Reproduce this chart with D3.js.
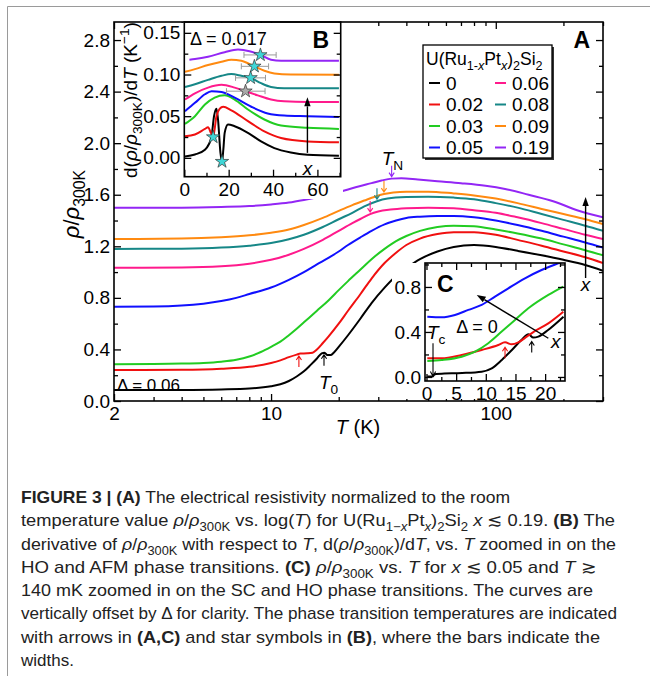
<!DOCTYPE html>
<html>
<head>
<meta charset="utf-8">
<script src="https://cdn.jsdelivr.net/npm/d3@7"></script>
<style>
  body { margin: 0; background: #fff; }
  svg { font-family: "Liberation Sans", Arial, sans-serif; }
</style>
</head>
<body>
<svg id="container" width="650" height="676"></svg>
<script>
// ---------------- data ----------------
const xLabels = ["0", "0.02", "0.03", "0.05", "0.06", "0.08", "0.09", "0.19"];
const colors  = ["#000000", "#f01010", "#22cc22", "#1010ff", "#ff1a8c", "#168787", "#ff8a10", "#9326f5"];

// (A) rho/rho300K, offset by 0.06, vs T (K)
const rhoA_0 = [[2,0.085],[4,0.086],[6,0.09],[8,0.097],[10,0.115],[11,0.13],[12,0.155],[13,0.19],[14,0.23],[15,0.28],[16,0.33],[16.8,0.37],[17.3,0.375],[17.8,0.356],[18.4,0.356],[19,0.375],[20,0.42],[22,0.51],[25,0.64],[28,0.76],[32,0.88],[36,0.97],[40,1.03],[46,1.1],[55,1.16],[65,1.195],[80,1.21],[100,1.195],[125,1.165],[160,1.13],[200,1.095],[250,1.055],[300,1.01]];
const rhoA_002 = [[2,0.24],[4,0.242],[6,0.25],[8,0.265],[10,0.295],[11,0.315],[12,0.34],[13,0.36],[13.5,0.368],[14.5,0.37],[15.3,0.375],[16,0.4],[17,0.45],[18,0.5],[20,0.6],[22,0.7],[25,0.83],[28,0.95],[32,1.07],[36,1.15],[40,1.21],[46,1.26],[55,1.295],[65,1.31],[80,1.31],[100,1.29],[125,1.25],[160,1.205],[200,1.16],[250,1.115],[300,1.07]];
const rhoA_003 = [[2,0.285],[4,0.29],[5,0.295],[6,0.305],[7,0.32],[8,0.345],[9,0.38],[10,0.42],[11,0.46],[12,0.51],[13,0.56],[14,0.61],[16,0.7],[18,0.78],[20,0.86],[22,0.93],[25,1.02],[28,1.1],[32,1.18],[36,1.24],[40,1.28],[46,1.32],[55,1.35],[65,1.36],[80,1.355],[100,1.33],[125,1.3],[160,1.26],[200,1.215],[250,1.17],[300,1.13]];
const rhoA_005 = [[2,0.732],[3,0.733],[4,0.74],[5,0.755],[6,0.775],[7,0.8],[8,0.83],[10,0.88],[12,0.94],[14,1.0],[16,1.06],[18,1.11],[20,1.16],[22,1.21],[25,1.27],[28,1.32],[32,1.37],[36,1.4],[40,1.42],[46,1.43],[55,1.435],[65,1.435],[80,1.425],[100,1.4],[125,1.365],[160,1.32],[200,1.275],[250,1.23],[300,1.19]];
const rhoA_006 = [[2,1.034],[4,1.036],[6,1.045],[8,1.065],[10,1.095],[12,1.135],[14,1.18],[17,1.25],[20,1.32],[23,1.38],[25.5,1.42],[27.6,1.45],[30,1.47],[34,1.485],[40,1.495],[50,1.5],[65,1.495],[80,1.48],[100,1.46],[125,1.425],[160,1.38],[200,1.335],[250,1.29],[300,1.257]];
const rhoA_008 = [[2,1.18],[4,1.182],[6,1.19],[8,1.205],[10,1.225],[12,1.255],[14,1.29],[17,1.35],[20,1.41],[23,1.46],[26,1.51],[29.6,1.55],[33,1.57],[40,1.582],[50,1.585],[65,1.578],[80,1.565],[100,1.535],[125,1.5],[160,1.45],[200,1.405],[250,1.36],[300,1.32]];
const rhoA_009 = [[2,1.257],[4,1.26],[6,1.27],[8,1.285],[10,1.305],[12,1.33],[14,1.365],[17,1.42],[20,1.475],[23,1.52],[26,1.555],[29,1.585],[31.8,1.605],[35,1.618],[40,1.624],[50,1.624],[65,1.61],[80,1.595],[100,1.57],[125,1.535],[160,1.49],[200,1.45],[250,1.41],[300,1.373]];
const rhoA_019 = [[2,1.5],[4,1.5],[6,1.505],[8,1.512],[10,1.525],[12,1.54],[14,1.56],[17,1.59],[20,1.62],[24,1.66],[28,1.69],[31,1.71],[34.4,1.725],[38,1.728],[45,1.718],[55,1.705],[70,1.69],[90,1.67],[110,1.645],[140,1.6],[180,1.55],[230,1.48],[300,1.425]];
const panelA = [rhoA_0, rhoA_002, rhoA_003, rhoA_005, rhoA_006, rhoA_008, rhoA_009, rhoA_019];
// transition arrows in (A): [series index, T, direction]
const arrowsA = [[0,17.2,"up"],[1,13.3,"up"],[4,27.6,"down"],[5,29.6,"down"],[6,31.8,"down"],[7,34.4,"down"]];

// (B) d(rho/rho300K)/dT, offset by 0.017, vs T (K)
const drhoB_0 = [[0.3,0.0016],[4.8,0.004],[9.3,0.0097],[11,0.016],[12.3,0.0258],[13.4,0.05],[14.5,0.059],[15.2,0.046],[16.3,0.006],[17,-0.0045],[17.6,0.01],[18.2,0.03],[19.7,0.04],[22.7,0.038],[28.7,0.03],[34.6,0.0197],[40.6,0.0117],[48,0.0064],[55.5,0.0036],[69.7,0.0024]];
const drhoB_002 = [[0.3,0.0258],[4.8,0.028],[9.3,0.0347],[10.7,0.0367],[12,0.03],[13,0.025],[14.5,0.05],[16,0.059],[17.5,0.0613],[21.2,0.057],[28.7,0.044],[36.1,0.0318],[43.6,0.0238],[55.5,0.0197],[69.7,0.0186]];
const drhoB_003 = [[0.3,0.0408],[4.8,0.05],[9.3,0.064],[13.7,0.0722],[18.2,0.075],[22.7,0.07],[28.7,0.058],[36.1,0.046],[43.6,0.0387],[55.5,0.036],[69.7,0.0347]];
const drhoB_005 = [[0.3,0.056],[4.8,0.066],[9.3,0.0763],[12.3,0.08],[16.8,0.079],[22.7,0.0722],[30.2,0.0613],[37.6,0.0533],[45,0.0508],[55.5,0.05],[69.7,0.049]];
const drhoB_006 = [[0.3,0.07],[4.8,0.0775],[10.7,0.0843],[16.8,0.0876],[22.7,0.0843],[27.6,0.08],[33.1,0.075],[39.1,0.07],[45,0.0678],[55.5,0.067],[69.7,0.067]];
const drhoB_008 = [[0.3,0.0851],[4.8,0.0884],[10.7,0.0936],[16.8,0.0985],[21.2,0.1005],[25.7,0.0985],[29.9,0.096],[34.6,0.0896],[39.1,0.0851],[45,0.0835],[69.7,0.0835]];
const drhoB_009 = [[0.3,0.1033],[4.8,0.1065],[10.7,0.1114],[16.8,0.1154],[21.2,0.1178],[25.7,0.1166],[31.6,0.1098],[36.1,0.1045],[40.6,0.1013],[48,0.1],[69.7,0.0996]];
const drhoB_019 = [[2.3,0.1178],[4.8,0.1186],[10.7,0.1214],[18.2,0.1268],[24.2,0.13],[29.4,0.128],[34.3,0.1235],[39.1,0.1178],[43.6,0.1166],[69.7,0.1166]];
const panelB = [drhoB_0, drhoB_002, drhoB_003, drhoB_005, drhoB_006, drhoB_008, drhoB_009, drhoB_019];
// stars in (B): [series index, T, value, width low, width high]
const starsB = [[0,17.0,-0.0045,null,null],[1,13.0,0.025,null,null],[4,27.6,0.08,19,36.4],[5,29.9,0.096,23.1,36.6],[6,31.6,0.1098,25.7,38],[7,34.3,0.1235,26.9,41.4]];

// (C) rho/rho300K, no offset, vs T (K), x <= 0.05
const rhoC_0 = [[0.14,0.003],[1.0,0.003],[1.3,0.02],[1.6,0.027],[3,0.03],[6,0.035],[9.3,0.047],[11,0.077],[12.7,0.151],[14.4,0.24],[16,0.329],[17.2,0.379],[18,0.35],[18.85,0.358],[20.5,0.418],[23.1,0.536]];
const rhoC_002 = [[0.14,0.166],[2.56,0.166],[5.94,0.196],[9.3,0.24],[12.1,0.284],[13.24,0.308],[14.37,0.29],[15.48,0.308],[16.9,0.358],[18.3,0.409],[20.54,0.477],[23.07,0.58]];
const rhoC_003 = [[0.14,0.142],[2.56,0.151],[5.94,0.18],[8.18,0.225],[10.42,0.3],[12.68,0.403],[14.92,0.507],[17.17,0.61],[20.54,0.729],[23.07,0.803]];
const rhoC_005 = [[0.14,0.536],[2.56,0.53],[4.8,0.551],[7.05,0.596],[9.3,0.64],[11.55,0.714],[13.8,0.788],[16.6,0.877],[19.4,0.951],[21.7,1.0],[23.35,1.03]];
const panelC = [rhoC_0, rhoC_002, rhoC_003, rhoC_005];
const arrowsC = [[0,17.74,"up"],[1,13.24,"up"]];
const tcC = 1.1;

// caption lines: [text, style] segments; b bold, i italic, _ subscript, ^ superscript
const caption = [
  [["FIGURE 3 | (A)","b"],[" The electrical resistivity normalized to the room",""]],
  [["temperature value ",""],["ρ","i"],["/",""],["ρ","i"],["300K","_"],[" vs. log(",""],["T","i"],[") for U(Ru",""],["1−","_"],["x","_i"],["Pt",""],["x","_i"],[")",""],["2","_"],["Si",""],["2","_"],[" ",""],["x","i"],[" ≲ 0.19. ",""],["(B)","b"],[" The",""]],
  [["derivative of ",""],["ρ","i"],["/",""],["ρ","i"],["300K","_"],[" with respect to ",""],["T","i"],[", d(",""],["ρ","i"],["/",""],["ρ","i"],["300K","_"],[")/d",""],["T","i"],[", vs. ",""],["T","i"],[" zoomed in on the",""]],
  [["HO and AFM phase transitions. ",""],["(C)","b"],[" ",""],["ρ","i"],["/",""],["ρ","i"],["300K","_"],[" vs. ",""],["T","i"],[" for ",""],["x","i"],[" ≲ 0.05 and ",""],["T","i"],[" ≳",""]],
  [["140 mK zoomed in on the SC and HO phase transitions. The curves are",""]],
  [["vertically offset by Δ for clarity. The phase transition temperatures are indicated",""]],
  [["with arrows in ",""],["(A,C)","b"],[" and star symbols in ",""],["(B)","b"],[", where the bars indicate the",""]],
  [["widths.",""]]
];
const captionEnds = [510, 615, 616, 596, 593, 617, 600, null];

// ---------------- helpers ----------------
const svg = d3.select("#container");
const FONT = 19;

function rich(sel, segs, size) {
  let cur = 0;
  segs.forEach(([t, st]) => {
    const sub = st.includes("_"), sup = st.includes("^");
    const s = sub ? size * 0.28 : sup ? -size * 0.4 : 0;
    const ts = sel.append("tspan").text(t)
      .attr("dy", s - cur)
      .attr("font-size", (sub || sup) ? size * 0.72 : size);
    if (st.includes("b")) ts.attr("font-weight", "bold");
    if (st.includes("i")) ts.attr("font-style", "italic");
    cur = s;
  });
  return sel;
}

function valueAt(series, T, logx) {
  const f = logx ? Math.log : (v => v);
  for (let i = 1; i < series.length; i++) {
    if (series[i][0] >= T) {
      const [t0, v0] = series[i - 1], [t1, v1] = series[i];
      const k = (f(T) - f(t0)) / (f(t1) - f(t0));
      return v0 + k * (v1 - v0);
    }
  }
  return series[series.length - 1][1];
}

function ticks(g, x, y, o) {
  const [x0, x1] = x.range(), [y0, y1] = y.range();
  const fmtNone = () => "";
  const style = s => s.call(a => a.select(".domain").remove())
    .call(a => a.selectAll(".tick line").attr("stroke", "#000").attr("stroke-width", 1.3))
    .call(a => a.selectAll("text").attr("font-size", FONT).attr("font-family", "Liberation Sans, Arial, sans-serif").attr("fill", "#000"));
  g.append("g").attr("transform", `translate(0,${y0})`)
    .call(d3.axisBottom(x).tickValues(o.xMajor).tickSize(-7).tickPadding(6).tickFormat(o.xFmt)).call(style);
  g.append("g").attr("transform", `translate(0,${y0})`)
    .call(d3.axisBottom(x).tickValues(o.xMinor).tickSize(-4).tickFormat(fmtNone)).call(style);
  if (o.top) {
    g.append("g").attr("transform", `translate(0,${y1})`)
      .call(d3.axisTop(x).tickValues(o.xMajor).tickSize(-7).tickFormat(fmtNone)).call(style);
    g.append("g").attr("transform", `translate(0,${y1})`)
      .call(d3.axisTop(x).tickValues(o.xMinor).tickSize(-4).tickFormat(fmtNone)).call(style);
  }
  g.append("g").attr("transform", `translate(${x0},0)`)
    .call(d3.axisLeft(y).tickValues(o.yMajor).tickSize(-7).tickPadding(4).tickFormat(o.yFmt)).call(style);
  g.append("g").attr("transform", `translate(${x0},0)`)
    .call(d3.axisLeft(y).tickValues(o.yMinor).tickSize(-4).tickFormat(fmtNone)).call(style);
  g.append("g").attr("transform", `translate(${x1},0)`)
    .call(d3.axisRight(y).tickValues(o.yMajor).tickSize(-7).tickFormat(fmtNone)).call(style);
  g.append("g").attr("transform", `translate(${x1},0)`)
    .call(d3.axisRight(y).tickValues(o.yMinor).tickSize(-4).tickFormat(fmtNone)).call(style);
  g.append("rect").attr("x", x0).attr("y", y1).attr("width", x1 - x0).attr("height", y0 - y1)
    .attr("fill", "none").attr("stroke", "#000").attr("stroke-width", 1.6);
}

function smallArrow(g, x, yTip, dir, color) {
  const d = dir === "up" ? 1 : -1;
  g.append("path")
    .attr("d", `M${x},${yTip + d * 11}L${x},${yTip}M${x - 2.6},${yTip + d * 4}L${x},${yTip}L${x + 2.6},${yTip + d * 4}`)
    .attr("fill", "none").attr("stroke", color).attr("stroke-width", 1.1);
}

function bigArrow(g, xa, ya, xb, yb) {
  const ang = Math.atan2(yb - ya, xb - xa), L = 9, w = 3.2;
  const bx = xb - L * Math.cos(ang), by = yb - L * Math.sin(ang);
  g.append("line").attr("x1", xa).attr("y1", ya).attr("x2", bx).attr("y2", by)
    .attr("stroke", "#000").attr("stroke-width", 1.4);
  g.append("path")
    .attr("d", `M${xb},${yb}L${bx - w * Math.sin(ang)},${by + w * Math.cos(ang)}L${bx + w * Math.sin(ang)},${by - w * Math.cos(ang)}Z`)
    .attr("fill", "#000");
}

// page border
svg.append("path").attr("d", "M7.5,676V6.5H650").attr("fill", "none").attr("stroke", "#9a9a9a").attr("stroke-width", 1);

// ---------------- panel A ----------------
const xA = d3.scaleLog().domain([2, 300]).range([114, 603]);
const yA = d3.scaleLinear().domain([0, 2.94]).range([401, 22]);
const gA = svg.append("g");

svg.append("clipPath").attr("id", "clipA").append("rect")
  .attr("x", 114).attr("y", 22).attr("width", 489).attr("height", 379);

const lineA = d3.line().x(d => xA(d[0])).y(d => yA(d[1])).curve(d3.curveMonotoneX);
gA.append("g").attr("clip-path", "url(#clipA)")
  .selectAll("path").data(panelA).join("path")
  .attr("d", lineA).attr("fill", "none")
  .attr("stroke", (d, i) => colors[i]).attr("stroke-width", 2);

ticks(gA, xA, yA, {
  xMajor: [2, 10, 100], xMinor: [3,4,5,6,7,8,9,20,30,40,50,60,70,80,90,200,300],
  xFmt: d3.format("d"), top: true,
  yMajor: d3.range(0, 2.81, 0.4), yMinor: d3.range(0.2, 2.9, 0.4), yFmt: d3.format(".1f")
});

arrowsA.forEach(([s, T, dir]) => {
  const yc = yA(valueAt(panelA[s], T, true));
  smallArrow(gA, xA(T), dir === "up" ? yc + 2 : yc - 2, dir, colors[s]);
});

gA.append("text").attr("transform", "translate(79,204) rotate(-90)")
  .attr("text-anchor", "middle")
  .call(s => rich(s, [["ρ","i"],["/",""],["ρ","i"],["300K","_"]], 22));
gA.append("text").attr("x", 358).attr("y", 434).attr("text-anchor", "middle")
  .call(s => rich(s, [["T","i"],[" (K)",""]], 20));
gA.append("text").attr("x", xA(2) + 3).attr("y", yA(0.1) + 3).attr("font-size", 17).text("Δ = 0.06");
gA.append("text").attr("x", xA(34.4) - 10).attr("y", yA(1.725) - 14)
  .call(s => rich(s, [["T","i"],["N","_"]], 19));
gA.append("text").attr("x", xA(17.2) - 5).attr("y", yA(0.375) + 36)
  .call(s => rich(s, [["T","i"],["0","_"]], 19));
bigArrow(gA, xA(251), yA(0.954), xA(251), yA(1.583));
gA.append("text").attr("x", xA(251)).attr("y", yA(0.954) + 13).attr("text-anchor", "middle")
  .attr("font-size", 19).attr("font-style", "italic").text("x");
gA.append("text").attr("x", 590).attr("y", 48).attr("text-anchor", "end")
  .attr("font-size", 23).attr("font-weight", "bold").text("A");

// legend
const lg = gA.append("g");
lg.append("rect").attr("x", 425).attr("y", 47).attr("width", 129).attr("height", 113).attr("fill", "#333");
lg.append("rect").attr("x", 423).attr("y", 45).attr("width", 129).attr("height", 113)
  .attr("fill", "#fff").attr("stroke", "#000").attr("stroke-width", 1.3);
lg.append("text").attr("x", 426).attr("y", 65)
  .call(s => rich(s, [["U(Ru",""],["1-","_"],["x","_i"],["Pt",""],["x","_i"],[")",""],["2","_"],["Si",""],["2","_"]], 17.5));
xLabels.forEach((lab, i) => {
  const col = i < 4 ? 0 : 1, row = i % 4;
  const x0 = col ? 495 : 429, yc = 83 + row * 21.5;
  lg.append("line").attr("x1", x0).attr("x2", x0 + 11).attr("y1", yc).attr("y2", yc)
    .attr("stroke", colors[i]).attr("stroke-width", 2);
  lg.append("text").attr("x", x0 + 17).attr("y", yc + 6.5).attr("font-size", 19).text(lab);
});

// ---------------- panel B ----------------
const xB = d3.scaleLinear().domain([0, 70.5]).range([184.3, 340.7]);
const yB = d3.scaleLinear().domain([-0.0226, 0.163]).range([176.7, 22]);
const gB = svg.append("g");
gB.append("rect").attr("x", 121).attr("y", 23).attr("width", 222).attr("height", 176).attr("fill", "#fff");
svg.append("clipPath").attr("id", "clipB").append("rect")
  .attr("x", 184.3).attr("y", 22).attr("width", 156.4).attr("height", 154.7);
const lineB = d3.line().x(d => xB(d[0])).y(d => yB(d[1])).curve(d3.curveMonotoneX);
gB.append("g").attr("clip-path", "url(#clipB)")
  .selectAll("path").data(panelB).join("path")
  .attr("d", lineB).attr("fill", "none")
  .attr("stroke", (d, i) => colors[i]).attr("stroke-width", 2);

ticks(gB, xB, yB, {
  xMajor: [0, 20, 40, 60], xMinor: [10, 30, 50, 70], xFmt: d3.format("d"), top: false,
  yMajor: [0, 0.05, 0.1, 0.15], yMinor: [0.025, 0.075, 0.125], yFmt: d3.format(".2f")
});

// width bars and stars
starsB.forEach(([s, T, v, lo, hi]) => {
  if (lo !== null) {
    const yy = yB(v);
    gB.append("path").attr("d", `M${xB(lo)},${yy}H${xB(hi)}M${xB(lo)},${yy - 3}V${yy + 3}M${xB(hi)},${yy - 3}V${yy + 3}`)
      .attr("stroke", "#9a9a9a").attr("stroke-width", 1).attr("fill", "none");
  }
});
starsB.forEach(([s, T, v]) => {
  gB.append("path").attr("d", d3.symbol(d3.symbolStar, 55)())
    .attr("transform", `translate(${xB(T)},${yB(v)})`)
    .attr("fill", s === 4 ? "#a9a9a9" : "#3fd6d6").attr("stroke", "#333").attr("stroke-width", 0.7);
});

gB.append("text").attr("transform", "translate(137,100) rotate(-90)").attr("text-anchor", "middle")
  .call(s => rich(s, [["d(",""],["ρ","i"],["/",""],["ρ","i"],["300K","_"],[")/d",""],["T","i"],[" (K",""],["−1","^"],[")",""]], 19));
gB.append("text").attr("x", xB(2.6)).attr("y", 45).attr("font-size", 18).text("Δ = 0.017");
gB.append("text").attr("x", 329).attr("y", 48).attr("text-anchor", "end")
  .attr("font-size", 23).attr("font-weight", "bold").text("B");
bigArrow(gB, xB(55.5), yB(0.006), xB(55.5), yB(0.0726));
gB.append("text").attr("x", xB(55.5)).attr("y", 175).attr("text-anchor", "middle")
  .attr("font-size", 19).attr("font-style", "italic").text("x");

// ---------------- panel C ----------------
const xC = d3.scaleLinear().domain([-0.25, 23.35]).range([425, 565]);
const yC = d3.scaleLinear().domain([-0.036, 1.013]).range([381, 263]);
const gC = svg.append("g");
gC.append("rect").attr("x", 392).attr("y", 263).attr("width", 174).attr("height", 136).attr("fill", "#fff");
svg.append("clipPath").attr("id", "clipC").append("rect")
  .attr("x", 425).attr("y", 263).attr("width", 140).attr("height", 118);
const lineC = d3.line().x(d => xC(d[0])).y(d => yC(d[1])).curve(d3.curveMonotoneX);
gC.append("g").attr("clip-path", "url(#clipC)")
  .selectAll("path").data(panelC).join("path")
  .attr("d", lineC).attr("fill", "none")
  .attr("stroke", (d, i) => colors[i]).attr("stroke-width", 2);

ticks(gC, xC, yC, {
  xMajor: [0, 5, 10, 15, 20], xMinor: [2.5, 7.5, 12.5, 17.5, 22.5], xFmt: d3.format("d"), top: true,
  yMajor: [0, 0.4, 0.8], yMinor: [0.2, 0.6, 1.0], yFmt: d3.format(".1f")
});

arrowsC.forEach(([s, T, dir]) => {
  const yc = yC(valueAt(panelC[s], T, false));
  smallArrow(gC, xC(T), yc + 5, dir, colors[s]);
});
// Tc arrow
gC.append("path")
  .attr("d", `M${xC(tcC)},${yC(0.3)}L${xC(tcC)},${yC(0.005)}M${xC(tcC) - 2.6},${yC(0.005) - 5}L${xC(tcC)},${yC(0.005)}L${xC(tcC) + 2.6},${yC(0.005) - 5}`)
  .attr("fill", "none").attr("stroke", "#000").attr("stroke-width", 1.1);
gC.append("text").attr("x", 427).attr("y", 339)
  .call(s => rich(s, [["T","i"],["c","_"]], 19));
gC.append("text").attr("x", xC(5)).attr("y", yC(0.391)).attr("font-size", 18).text("Δ = 0");
gC.append("text").attr("x", 437).attr("y", 292).attr("font-size", 23).attr("font-weight", "bold").text("C");
bigArrow(gC, xC(20.54), yC(0.344), xC(8.47), yC(0.729));
gC.append("text").attr("x", xC(21.8)).attr("y", yC(0.26)).attr("text-anchor", "middle")
  .attr("font-size", 19).attr("font-style", "italic").text("x");

// ---------------- caption ----------------
const baselines = [503, 526, 550, 573, 596, 619, 643, 666];
caption.forEach((segs, i) => {
  const t = svg.append("text").attr("x", 21).attr("y", baselines[i])
    .attr("font-family", "Liberation Sans Narrow, Liberation Sans, Arial, sans-serif").attr("fill", "#222");
  rich(t, segs, 17);
  if (captionEnds[i]) t.attr("textLength", captionEnds[i] - 21).attr("lengthAdjust", "spacingAndGlyphs");
});
</script>
</body>
</html>
